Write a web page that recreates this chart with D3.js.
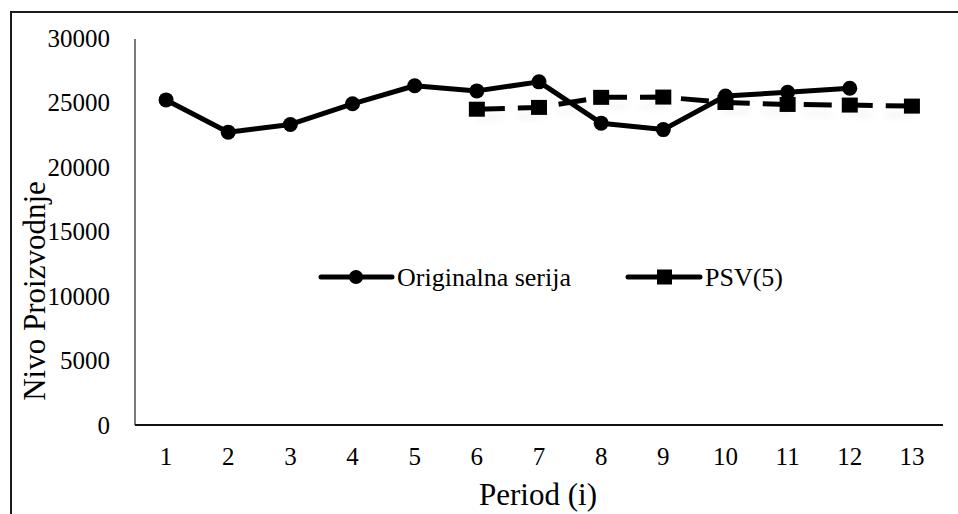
<!DOCTYPE html>
<html>
<head>
<meta charset="utf-8">
<script src="https://cdn.jsdelivr.net/npm/d3@7"></script>
<style>
  html, body { margin: 0; padding: 0; background: #fff; }
  svg { display: block; }
  svg text { font-family: "Liberation Serif", "Times New Roman", serif; fill: #000; }
</style>
</head>
<body>
<svg id="chart" width="958" height="514"></svg>
<script>
// Production level per period and its 5-period moving average
const periods = [1, 2, 3, 4, 5, 6, 7, 8, 9, 10, 11, 12, 13];
const original = [25200, 22700, 23300, 24900, 26300, 25900, 26600, 23400, 22900, 25500, 25800, 26100, null];
const psv5 = [null, null, null, null, null, 24480, 24620, 25400, 25420, 25000, 24850, 24800, 24720];
const yTicks = [0, 5000, 10000, 15000, 20000, 25000, 30000];
const seriesNames = ["Originalna serija", "PSV(5)"];
const yTitle = "Nivo Proizvodnje";
const xTitle = "Period (i)";

const svg = d3.select("#chart");
const plot = { left: 135, right: 943, top: 38, bottom: 425 };

// chart area outline
svg.append("path")
  .attr("d", "M11,514 V12 H958")
  .attr("fill", "none").attr("stroke", "#1a1a1a").attr("stroke-width", 2);

const x = d3.scaleBand().domain(periods).range([plot.left, plot.right]);
const y = d3.scaleLinear().domain([0, 30000]).range([plot.bottom, plot.top]);
const cx = d => x(d) + x.bandwidth() / 2;

// y axis
const yAxis = svg.append("g")
  .attr("transform", `translate(${plot.left},0)`)
  .call(d3.axisLeft(y).tickValues(yTicks).tickSize(0).tickPadding(25).tickFormat(d3.format("d")));
yAxis.select(".domain").attr("stroke", "#222").attr("stroke-width", 1.2)
  .attr("d", `M0,${plot.bottom}V${plot.top + 1}`);
yAxis.selectAll("text").attr("font-size", 25);

// x axis
const xAxis = svg.append("g")
  .attr("transform", `translate(0,${plot.bottom})`)
  .call(d3.axisBottom(x).tickSize(0).tickPadding(22));
xAxis.select(".domain").attr("stroke", "#111").attr("stroke-width", 2)
  .attr("d", `M${plot.left},0H${plot.right}`);
xAxis.selectAll("text").attr("font-size", 25);

// axis titles
svg.append("text")
  .attr("transform", "translate(45,291) rotate(-90)")
  .attr("text-anchor", "middle")
  .attr("font-size", 31)
  .text(yTitle);
svg.append("text")
  .attr("x", 538).attr("y", 505)
  .attr("text-anchor", "middle")
  .attr("font-size", 31)
  .text(xTitle);

// soft shadow filter for the moving-average line
const defs = svg.append("defs");
defs.append("filter").attr("id", "soft").attr("x", "-10%").attr("y", "-100%")
  .attr("width", "120%").attr("height", "300%")
  .append("feGaussianBlur").attr("stdDeviation", 3);

const lineGen = d3.line()
  .defined(d => d.v != null)
  .x(d => cx(d.p))
  .y(d => y(d.v));

const origData = periods.map((p, i) => ({ p, v: original[i] }));
const psvData = periods.map((p, i) => ({ p, v: psv5[i] }));

// faint shadow beneath the moving-average line
const shadow = svg.append("g").attr("filter", "url(#soft)").attr("opacity", 0.06)
  .attr("transform", "translate(0,9)");
shadow.append("path").datum(psvData).attr("d", lineGen)
  .attr("fill", "none").attr("stroke", "#555").attr("stroke-width", 5)
  .attr("stroke-dasharray", "28,13");

// PSV(5) line, dashed with square markers
svg.append("path").datum(psvData).attr("d", lineGen)
  .attr("fill", "none").attr("stroke", "#000").attr("stroke-width", 5)
  .attr("stroke-dasharray", "28,13");
svg.selectAll("rect.psv").data(psvData.filter(d => d.v != null)).join("rect")
  .attr("class", "psv")
  .attr("x", d => cx(d.p) - 8).attr("y", d => y(d.v) - 7.5)
  .attr("width", 16).attr("height", 15).attr("fill", "#000");

// original series, solid with round markers
svg.append("path").datum(origData).attr("d", lineGen)
  .attr("fill", "none").attr("stroke", "#000").attr("stroke-width", 5)
  .attr("stroke-linejoin", "round");
svg.selectAll("circle.orig").data(origData.filter(d => d.v != null)).join("circle")
  .attr("class", "orig")
  .attr("cx", d => cx(d.p)).attr("cy", d => y(d.v))
  .attr("r", 7.5).attr("fill", "#000");

// legend
const legY = 277;
const leg1 = svg.append("g");
leg1.append("line").attr("x1", 321).attr("x2", 392).attr("y1", legY).attr("y2", legY)
  .attr("stroke", "#000").attr("stroke-width", 5).attr("stroke-linecap", "round");
leg1.append("circle").attr("cx", 356).attr("cy", legY).attr("r", 7).attr("fill", "#000");
leg1.append("text").attr("x", 397).attr("y", legY).attr("dy", "0.33em")
  .attr("font-size", 26).text(seriesNames[0]);

const leg2 = svg.append("g");
leg2.append("line").attr("x1", 628).attr("x2", 700).attr("y1", legY).attr("y2", legY)
  .attr("stroke", "#000").attr("stroke-width", 5).attr("stroke-linecap", "round");
leg2.append("rect").attr("x", 657).attr("y", legY - 7.5).attr("width", 15).attr("height", 15).attr("fill", "#000");
leg2.append("text").attr("x", 705).attr("y", legY).attr("dy", "0.33em")
  .attr("font-size", 26).text(seriesNames[1]);
</script>
</body>
</html>
